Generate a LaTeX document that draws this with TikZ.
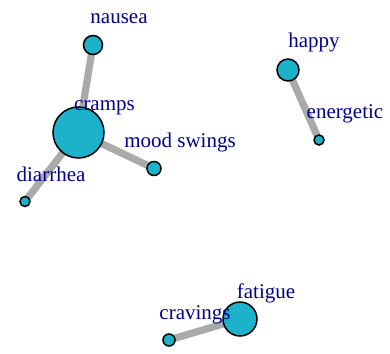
\documentclass[tikz,border=0pt]{standalone}
\usepackage{fontspec}
\setmainfont{Liberation Serif}
\usetikzlibrary{positioning}
\pgfdeclarelayer{background}
\pgfsetlayers{background,main}
\definecolor{VertexCyan}{RGB}{28, 178, 202}
\definecolor{EdgeGray}{RGB}{170, 170, 170}
\definecolor{LabelBlue}{RGB}{0, 0, 139}

\tikzset{
  vertex/.style={circle, draw=black, line width=0.75pt, fill=VertexCyan, inner sep=0pt},
  link/.style={EdgeGray, line width=3.6pt},
  tag/.style={LabelBlue, anchor=base, inner sep=0pt, font=\fontsize{10.5}{12}\selectfont}
}

\begin{document}
\begin{tikzpicture}[x=0.5pt, y=-0.5pt]
    \useasboundingbox (0,0) rectangle (390,353);

    % Vertices
    \node[vertex, minimum size=9.5pt]  (nausea)    at (93,45)      {};
    \node[vertex, minimum size=25.5pt] (cramps)    at (78.5,132.5) {};
    \node[vertex, minimum size=7pt]    (mood)      at (154,168.5)  {};
    \node[vertex, minimum size=5pt]    (diarrhea)  at (25,201.5)   {};
    \node[vertex, minimum size=11pt]   (happy)     at (288,70)     {};
    \node[vertex, minimum size=5pt]    (energetic) at (319,140)    {};
    \node[vertex, minimum size=17pt]   (fatigue)   at (240,319)    {};
    \node[vertex, minimum size=6pt]    (cravings)  at (169,340)    {};

    % Edges, behind the vertices
    \begin{pgfonlayer}{background}
      \draw[link] (nausea.center) -- (cramps.center);
      \draw[link] (cramps.center) -- (mood.center);
      \draw[link] (cramps.center) -- (diarrhea.center);
      \draw[link] (happy.center) -- (energetic.center);
      \draw[link] (fatigue.center) -- (cravings.center);
    \end{pgfonlayer}

    % Labels
    \node[tag] (nausea-l)    at ([shift={(26,-21)}]nausea.center)    {nausea};
    \node[tag] (cramps-l)    at ([shift={(26,-22)}]cramps.center)    {cramps};
    \node[tag] (mood-l)      at ([shift={(26,-21)}]mood.center)      {mood swings};
    \node[tag] (diarrhea-l)  at ([shift={(26,-20)}]diarrhea.center)  {diarrhea};
    \node[tag] (happy-l)     at ([shift={(26,-22)}]happy.center)     {happy};
    \node[tag] (energetic-l) at ([shift={(26,-21)}]energetic.center) {energetic};
    \node[tag] (fatigue-l)   at ([shift={(26,-21)}]fatigue.center)   {fatigue};
    \node[tag] (cravings-l)  at ([shift={(26,-21)}]cravings.center)  {cravings};
\end{tikzpicture}
\end{document}
